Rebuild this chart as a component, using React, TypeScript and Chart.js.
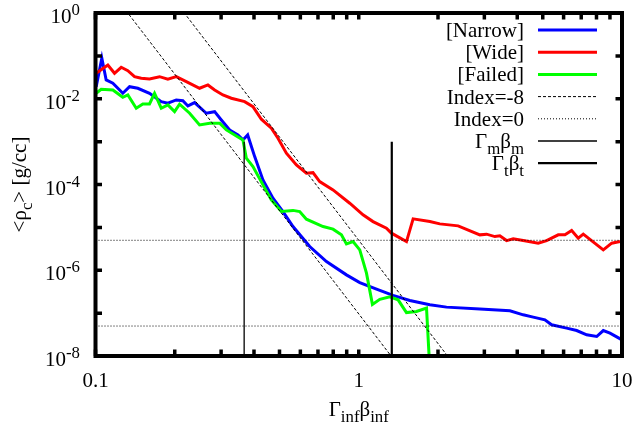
import React, { useEffect, useRef } from "react";
import { Chart, registerables } from "chart.js";

Chart.register(...registerables);

// ---- data ----
const narrowX = [0.1006, 0.1057, 0.1098, 0.1164, 0.127, 0.1347, 0.1448, 0.1604, 0.1777, 0.1883,
  0.2027, 0.2147, 0.2244, 0.2379, 0.2636, 0.2835, 0.3006, 0.3233, 0.3476, 0.3632,
  0.3785, 0.4024, 0.4326, 0.4722, 0.5154, 0.5626, 0.6513, 0.754, 0.8979, 1.009,
  1.168, 1.35, 1.563, 1.862, 2.155, 2.885, 3.751, 4.214, 4.6, 5.095,
  5.403, 6.162, 6.727, 7.342, 8.015, 8.49, 9.004, 9.886];
const narrowY = [0.01914, 0.0879, 0.02743, 0.02298, 0.01343, 0.01914, 0.01757, 0.01343, 0.00856, 0.00786,
  0.00938, 0.00903, 0.0068, 0.00811, 0.00459, 0.005, 0.0032, 0.001874, 0.001433, 0.001095,
  0.001433, 0.000447, 0.000128, 4.79e-5, 2.34e-5, 1.044e-5, 3.57e-6, 1.595e-6, 7.81e-7, 5.17e-7,
  3.63e-7, 2.6e-7, 1.966e-7, 1.561e-7, 1.38e-7, 1.24e-7, 1.131e-7, 9.13e-8, 8.07e-8, 6.98e-8,
  5.34e-8, 4.47e-8, 3.93e-8, 3.12e-8, 2.85e-8, 3.93e-8, 3.42e-8, 2.48e-8];

const wideX = [0.1006, 0.1114, 0.1181, 0.1252, 0.1327, 0.1407, 0.1492, 0.1604, 0.1751, 0.1883,
  0.2027, 0.2213, 0.2485, 0.2673, 0.2835, 0.3048, 0.3281, 0.3686, 0.3964, 0.4266,
  0.4656, 0.4934, 0.531, 0.5797, 0.6326, 0.6702, 0.7106, 0.7985, 0.9243, 1.038,
  1.133, 1.274, 1.331, 1.518, 1.609, 1.862, 2.032, 2.385, 2.885, 3.059,
  3.289, 3.436, 3.644, 3.861, 4.214, 4.805, 5.171, 5.726, 6.072, 6.438,
  6.82, 7.126, 8.49, 9.138, 9.826];
const wideY = [0.0393, 0.0614, 0.0393, 0.0542, 0.0452, 0.0327, 0.0301, 0.0289, 0.0327, 0.0285,
  0.0327, 0.025, 0.01757, 0.02098, 0.01604, 0.01227, 0.01027, 0.00856, 0.00655, 0.00333,
  0.00205, 0.0012, 0.000537, 0.000286, 0.000183, 0.000189, 0.000117, 7.48e-5, 3.66e-5, 1.96e-5,
  1.365e-5, 9.58e-6, 7.32e-6, 4.67e-6, 1.578e-5, 1.365e-5, 1.207e-5, 1.084e-5, 6.69e-6, 6.94e-6,
  6.1e-6, 6.34e-6, 4.92e-6, 5.39e-6, 4.92e-6, 4.28e-6, 4.92e-6, 6.69e-6, 6.69e-6, 8.42e-6,
  5.6e-6, 6.94e-6, 2.99e-6, 4.28e-6, 4.67e-6];

const failedX = [0.1006, 0.1051, 0.1164, 0.127, 0.1327, 0.1428, 0.1513, 0.1604, 0.1676, 0.1777,
  0.1883, 0.1997, 0.2086, 0.2278, 0.2485, 0.2714, 0.2962, 0.3141, 0.3428, 0.3632,
  0.3741, 0.3964, 0.4326, 0.4656, 0.5082, 0.5626, 0.5966, 0.6326, 0.7318, 0.7985,
  0.8595, 0.8979, 0.9513, 1.009, 1.07, 1.127, 1.202, 1.312, 1.411, 1.518,
  1.657, 1.809, 1.888];
const failedY = [0.01343, 0.01665, 0.01604, 0.01084, 0.01227, 0.006008, 0.00757, 0.00757, 0.01343, 0.00601,
  0.00717, 0.005, 0.00744, 0.00459, 0.00245, 0.002685, 0.002685, 0.001874, 0.001358, 0.001095,
  0.00041, 0.000261, 9.79e-5, 4.38e-5, 2.34e-5, 2.49e-5, 2.34e-5, 1.553e-5, 1.044e-5, 9.08e-6,
  6.69e-6, 4.12e-6, 4.67e-6, 2.99e-6, 8.56e-7, 1.6e-7, 2.1e-7, 2.4e-7, 2.04e-7, 1.03e-7,
  1.09e-7, 1.31e-7, 1e-9];

// power-law reference lines rho = A * x^-8
const index8Coef = [9.6e-8, 5.0e-6];
const index8XRange = [0.1, 2.5];
// constant-density reference lines (index 0)
const index0Levels = [5e-6, 5e-8];
// characteristic four-velocities
const gammaMBetaM = 0.367;
const gammaTBetaT = 1.335;
const markerTop = 1e-3;

const xMin = 0.1, xMax = 10, yMin = 1e-8, yMax = 1;
const xTickValues = [0.1, 0.2, 0.3, 0.4, 0.5, 0.6, 0.7, 0.8, 0.9, 1, 2, 3, 4, 5, 6, 7, 8, 9, 10];
const xTickLabels = [[0.1, "0.1"], [1, "1"], [10, "10"]] as [number, string][];
const yTickExps = [0, -1, -2, -3, -4, -5, -6, -7, -8];
const yLabelExps = [0, -2, -4, -6, -8];

// ---- text helpers ----
const BASE = 21;
const SMALL = 16.8;
type Seg = [string, number]; // 0 normal, 1 sub, 2 sup

function segFont(k: number) {
  return `${k === 0 ? BASE : SMALL}px "Liberation Serif"`;
}
function richWidth(ctx: CanvasRenderingContext2D, segs: Seg[]) {
  let w = 0;
  for (const [t, k] of segs) {
    ctx.font = segFont(k);
    w += ctx.measureText(t).width;
  }
  return w;
}
function drawRich(ctx: CanvasRenderingContext2D, segs: Seg[], x: number, y: number, align: string) {
  const w = richWidth(ctx, segs);
  let cx = align === "right" ? x - w : align === "center" ? x - w / 2 : x;
  ctx.textAlign = "left";
  ctx.textBaseline = "alphabetic";
  ctx.fillStyle = "#000";
  for (const [t, k] of segs) {
    ctx.font = segFont(k);
    const dy = k === 1 ? 6 : k === 2 ? -8 : 0;
    ctx.fillText(t, cx, y + dy);
    cx += ctx.measureText(t).width;
  }
}

const legendRows: { segs: Seg[]; ds: number }[] = [
  { segs: [["[Narrow]", 0]], ds: 0 },
  { segs: [["[Wide]", 0]], ds: 1 },
  { segs: [["[Failed]", 0]], ds: 2 },
  { segs: [["Index=-8", 0]], ds: 3 },
  { segs: [["Index=0", 0]], ds: 5 },
  { segs: [["Γ", 0], ["m", 1], ["β", 0], ["m", 1]], ds: 7 },
  { segs: [["Γ", 0], ["t", 1], ["β", 0], ["t", 1]], ds: 8 },
];

const decorPlugin = {
  id: "decor",
  afterDraw(chart: any) {
    const ctx: CanvasRenderingContext2D = chart.ctx;
    const { left, right, top, bottom } = chart.chartArea;
    const xs = chart.scales.x;
    const ys = chart.scales.y;
    ctx.save();
    // ticks (inward)
    ctx.strokeStyle = "#000";
    ctx.lineWidth = 3.5;
    ctx.setLineDash([]);
    const tl = 6.5;
    ctx.beginPath();
    for (const v of xTickValues) {
      const px = xs.getPixelForValue(v);
      ctx.moveTo(px, bottom);
      ctx.lineTo(px, bottom - tl);
      ctx.moveTo(px, top);
      ctx.lineTo(px, top + tl);
    }
    for (const e of yTickExps) {
      const py = ys.getPixelForValue(Math.pow(10, e));
      ctx.moveTo(left, py);
      ctx.lineTo(left + tl, py);
      ctx.moveTo(right, py);
      ctx.lineTo(right - tl, py);
    }
    ctx.stroke();
    // frame
    ctx.lineWidth = 4;
    ctx.strokeRect(left, top, right - left, bottom - top);

    // tick labels
    for (const e of yLabelExps) {
      const py = ys.getPixelForValue(Math.pow(10, e));
      drawRich(ctx, [["10", 0], [String(e), 2]], 80, py + 10, "right");
    }
    for (const [v, s] of xTickLabels) {
      const px = xs.getPixelForValue(v);
      drawRich(ctx, [[s, 0]], px, 387, "center");
    }
    // axis titles
    drawRich(ctx, [["Γ", 0], ["inf", 1], ["β", 0], ["inf", 1]], (left + right) / 2, 416, "center");
    ctx.save();
    ctx.translate(26, (top + bottom) / 2);
    ctx.rotate(-Math.PI / 2);
    drawRich(ctx, [["<ρ", 0], ["c", 1], ["> [g/cc]", 0]], 0, 0, "center");
    ctx.restore();

    // legend
    legendRows.forEach((row, i) => {
      const y = 30 + i * 22.2;
      drawRich(ctx, row.segs, 524, y + 7, "right");
      const ds = chart.data.datasets[row.ds];
      ctx.beginPath();
      ctx.strokeStyle = ds.borderColor;
      ctx.lineWidth = ds.borderWidth;
      ctx.setLineDash(ds.borderDash || []);
      ctx.moveTo(538, y);
      ctx.lineTo(597, y);
      ctx.stroke();
    });
    ctx.restore();
  },
};

function pts(xs: number[], ys: number[]) {
  return xs.map((x, i) => ({ x, y: ys[i] }));
}

export default function App() {
  const ref = useRef<HTMLCanvasElement | null>(null);
  useEffect(() => {
    if (!ref.current) return;
    const common = { pointRadius: 0, fill: false, tension: 0 };
    const chart = new Chart(ref.current, {
      type: "line",
      data: {
        datasets: [
          { ...common, label: "[Narrow]", data: pts(narrowX, narrowY), borderColor: "#0000ff", borderWidth: 3, order: 7 },
          { ...common, label: "[Wide]", data: pts(wideX, wideY), borderColor: "#ff0000", borderWidth: 3, order: 6 },
          { ...common, label: "[Failed]", data: pts(failedX, failedY), borderColor: "#00ff00", borderWidth: 3, order: 5 },
          ...index8Coef.map((a) => ({
            ...common,
            label: "Index=-8",
            data: index8XRange.map((x) => ({ x, y: a * Math.pow(x, -8) })),
            borderColor: "#000",
            borderWidth: 1,
            borderDash: [3, 2],
            order: 4,
          })),
          ...index0Levels.map((v) => ({
            ...common,
            label: "Index=0",
            data: [{ x: xMin, y: v }, { x: xMax, y: v }],
            borderColor: "#000",
            borderWidth: 1,
            borderDash: [1, 2],
            order: 3,
          })),
          { ...common, label: "ΓmBm", data: [{ x: gammaMBetaM, y: yMin }, { x: gammaMBetaM, y: markerTop }], borderColor: "#000", borderWidth: 1.3, order: 2 },
          { ...common, label: "ΓtBt", data: [{ x: gammaTBetaT, y: yMin }, { x: gammaTBetaT, y: markerTop }], borderColor: "#000", borderWidth: 2.2, order: 1 },
        ] as any,
      },
      options: {
        responsive: false,
        devicePixelRatio: 1,
        animation: false,
        events: [],
        layout: { padding: { left: 95.5, right: 16, top: 13, bottom: 78 } },
        plugins: { legend: { display: false }, tooltip: { enabled: false }, title: { display: false } },
        scales: {
          x: { type: "logarithmic", min: xMin, max: xMax, display: false },
          y: { type: "logarithmic", min: yMin, max: yMax, display: false },
        },
      } as any,
      plugins: [decorPlugin],
    });
    return () => chart.destroy();
  }, []);
  return (
    <div style={{ position: "absolute", left: 0, top: 0, width: 638, height: 434, background: "#fff" }}>
      <canvas ref={ref} width={638} height={434} style={{ display: "block" }} />
    </div>
  );
}
